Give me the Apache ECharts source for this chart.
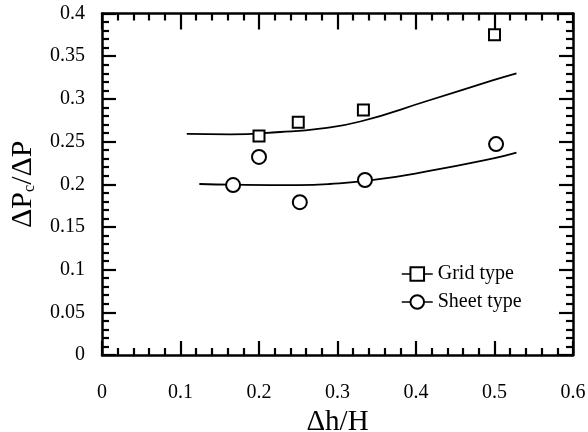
<!DOCTYPE html>
<html>
<head>
<meta charset="utf-8">
<script src="https://cdn.jsdelivr.net/npm/echarts@6/dist/echarts.min.js"></script>
<style>html,body{margin:0;padding:0;background:#fff;}#c{width:588px;height:432px;}</style>
</head>
<body>
<div id="c"></div>
<script>
// Data
var gridX = [0.2, 0.25, 0.333, 0.5];
var gridY = [0.2565, 0.2725, 0.287, 0.375];
var sheetX = [0.167, 0.2, 0.252, 0.335, 0.502];
var sheetY = [0.199, 0.232, 0.179, 0.205, 0.247];
var gridFitX = [0.108, 0.163, 0.227, 0.278, 0.329, 0.414, 0.4985, 0.528];
var gridFitY = [0.2589, 0.2585, 0.2612, 0.2652, 0.2735, 0.2975, 0.322, 0.330];
var sheetFitX = [0.124, 0.167, 0.25, 0.29, 0.3456, 0.4136, 0.4985, 0.528];
var sheetFitY = [0.2003, 0.1995, 0.199, 0.2003, 0.205, 0.215, 0.2303, 0.237];
var xTicks = [0, 0.1, 0.2, 0.3, 0.4, 0.5, 0.6];
var yTicks = [0, 0.05, 0.1, 0.15, 0.2, 0.25, 0.3, 0.35, 0.4];

function zip(a, b) { return a.map(function (v, i) { return [v, b[i]]; }); }

var FONT = 'Liberation Serif';
var axisLine = { show: true, onZero: false, lineStyle: { color: '#000', width: 2.5 } };
function ticks(len) { return { show: true, inside: true, length: len, lineStyle: { color: '#000', width: 2.2 } }; }
var minor = { show: true, splitNumber: 5, length: 7, lineStyle: { color: '#000', width: 2.2 } };

var chart = echarts.init(document.getElementById('c'), null, { renderer: 'canvas' });
chart.setOption({
  backgroundColor: '#fff',
  animation: false,
  grid: { left: 102, right: 15, top: 13.5, bottom: 77, containLabel: false, outerBoundsMode: 'none' },
  legend: {
    orient: 'vertical',
    left: 396, top: 259,
    itemWidth: 31, itemHeight: 17, itemGap: 8,
    data: ['Grid type', 'Sheet type'],
    textStyle: { fontFamily: FONT, fontSize: 20, color: '#000' },
    lineStyle: { opacity: 1, width: 1.5, color: '#000' }
  },
  xAxis: [{
    type: 'value', position: 'bottom', min: xTicks[0], max: xTicks[xTicks.length - 1], interval: 0.1,
    axisLine: axisLine, axisTick: ticks(14), minorTick: minor, splitLine: { show: false },
    axisLabel: { fontFamily: FONT, fontSize: 20, color: '#000', margin: 28 },
    name: 'Δh/H', nameLocation: 'middle', nameGap: 53,
    nameTextStyle: { fontFamily: FONT, fontSize: 29, color: '#000' }
  }, {
    type: 'value', position: 'top', min: xTicks[0], max: xTicks[xTicks.length - 1], interval: 0.1,
    axisLine: axisLine, axisTick: ticks(16), minorTick: minor, splitLine: { show: false },
    axisLabel: { show: false }
  }],
  yAxis: [{
    type: 'value', position: 'left', min: yTicks[0], max: yTicks[yTicks.length - 1], interval: 0.05,
    axisLine: axisLine, axisTick: ticks(14), minorTick: minor, splitLine: { show: false },
    axisLabel: { fontFamily: FONT, fontSize: 20, color: '#000', margin: 17, verticalAlign: 'middle', padding: [12, 0, 0, 0] },
    name: 'ΔP{sub|c}/ΔP', nameLocation: 'middle', nameGap: 64, nameRotate: 90,
    nameTextStyle: { fontFamily: FONT, fontSize: 30, color: '#000',
      rich: { sub: { fontFamily: FONT, fontSize: 16, color: '#000', verticalAlign: 'bottom', padding: [14, 0, 0, 0] } } }
  }, {
    type: 'value', position: 'right', min: yTicks[0], max: yTicks[yTicks.length - 1], interval: 0.05,
    axisLine: axisLine, axisTick: ticks(14), minorTick: minor, splitLine: { show: false },
    axisLabel: { show: false }
  }],
  series: [{
    name: 'gridFit', type: 'line', smooth: 0.5, showSymbol: false, silent: true,
    data: zip(gridFitX, gridFitY), lineStyle: { color: '#000', width: 1.8 }, itemStyle: { color: '#000' }, z: 2
  }, {
    name: 'sheetFit', type: 'line', smooth: 0.5, showSymbol: false, silent: true,
    data: zip(sheetFitX, sheetFitY), lineStyle: { color: '#000', width: 1.8 }, itemStyle: { color: '#000' }, z: 2
  }, {
    name: 'Grid type', type: 'line', symbol: 'rect', symbolSize: 11, showSymbol: true,
    data: zip(gridX, gridY),
    lineStyle: { color: '#000', opacity: 0, width: 1.5 },
    itemStyle: { color: '#fff', borderColor: '#000', borderWidth: 2 }, z: 3
  }, {
    name: 'Sheet type', type: 'line', symbol: 'circle', symbolSize: 14, showSymbol: true,
    data: zip(sheetX, sheetY),
    lineStyle: { color: '#000', opacity: 0, width: 1.5 },
    itemStyle: { color: '#fff', borderColor: '#000', borderWidth: 2 }, z: 3
  }]
});
</script>
</body>
</html>
